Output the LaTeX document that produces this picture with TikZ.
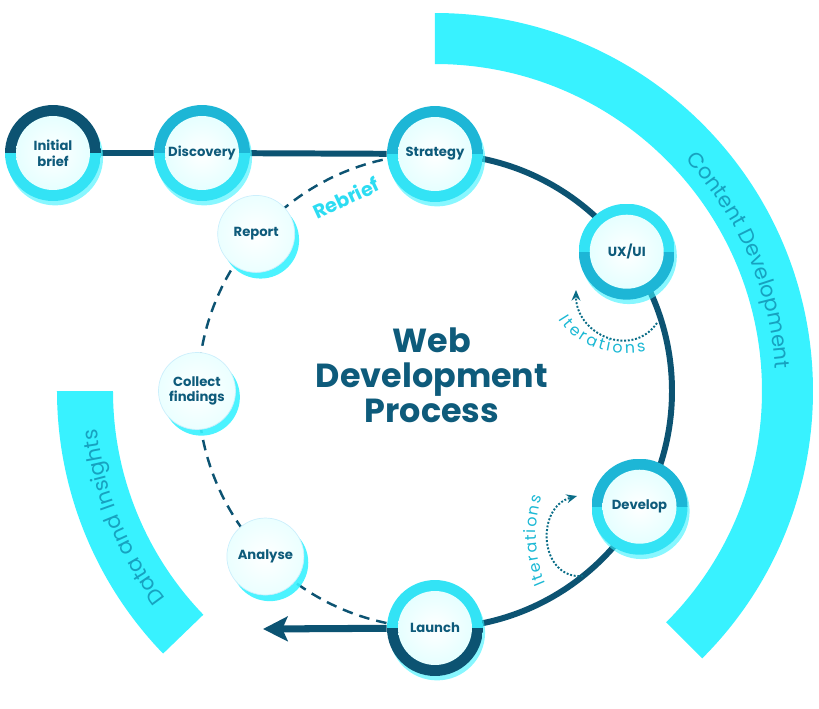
\documentclass[tikz,border=0pt]{standalone}
\usepackage{fontspec}
\setmainfont{Poppins}
\usetikzlibrary{arrows.meta,backgrounds,decorations.text,shadows}

\definecolor{navy}{HTML}{0C5372}
\definecolor{labeltxt}{HTML}{0E5B7B}
\definecolor{band}{HTML}{38F2FF}
\definecolor{ringlt}{HTML}{33E3F5}
\definecolor{ringmd}{HTML}{1DB6D6}
\definecolor{bandtxt}{HTML}{17A2C0}
\definecolor{itertxt}{HTML}{1BB8D4}
\definecolor{rebriefc}{HTML}{2CDCF2}

\tikzset{
  lbl/.style={font=\fontsize{7.5}{9}\selectfont\bfseries, text=labeltxt, align=center},
  stage/.style 2 args={circle, minimum size=1.92cm, inner sep=0pt, lbl,
    drop shadow={shadow xshift=1.2pt, shadow yshift=-2.5pt, fill=band, opacity=.6},
    path picture={
      \fill[#1] (path picture bounding box.west) rectangle (path picture bounding box.north east);
      \fill[#2] (path picture bounding box.west) rectangle (path picture bounding box.south east);
      \shade[inner color=white, outer color=cyan!10] (path picture bounding box.center) circle (0.74cm);
    }},
  finding/.style={circle, minimum size=1.54cm, inner sep=0pt, lbl,
    inner color=white, outer color=cyan!8, draw=cyan!20, line width=.4pt,
    drop shadow={shadow xshift=2.5pt, shadow yshift=-3.5pt, fill=band, opacity=.9}},
  mainline/.style={navy, line width=3.4pt},
  iterline/.style={navy!85!cyan, densely dotted, line width=1.1pt, -{Stealth[length=6pt,width=5pt]}},
  bandtext/.style={decorate, decoration={text along path, text align=center,
    text={|\fontsize{12}{12}\selectfont\color{bandtxt}|#1}}},
  itertext/.style={decorate, decoration={text along path, text align={fit to path},
    text={|\fontsize{9}{9}\selectfont\color{itertxt}|#1}}}
}

\begin{document}
\begin{tikzpicture}[x=0.02cm, y=0.02cm]
  \useasboundingbox (-435,-317) rectangle (384,391);

  % stages on the loop
  \node[stage={navy}{ringlt}] (init) at (-382,238) {Initial\\brief};
  \node[stage={ringmd}{ringlt}] (disc) at (-233,238) {Discovery};
  \node[stage={ringmd}{ringlt}] (strat) at (90:237) {Strategy};
  \node[stage={ringlt}{ringmd}] (uxui) at (36:237) {UX/UI};
  \node[stage={ringmd}{ringlt}] (dev) at (-29.5:235) {Develop};
  \node[stage={ringlt}{navy}] (launch) at (270:237) {Launch};

  \node[finding] (report) at (138.7:238) {Report};
  \node[finding] (collect) at (180:238) {Collect\\findings};
  \node[finding] (analyse) at (224.3:237) {Analyse};

  \node[font=\fontsize{19}{20}\selectfont\bfseries, text=labeltxt, align=center] (title) at (-3,16)
       {Web\\Development\\Process};
  \node[font=\fontsize{11}{12}\selectfont\bfseries, text=rebriefc, rotate=25] (rebrief) at (-89,193) {Rebrief};

  \coordinate (tip) at (-172,-238);
  \coordinate (it1a) at (222,68);
  \coordinate (it1b) at (141,101);
  \coordinate (it2a) at (148,-185);
  \coordinate (it2b) at (142,-105);

  \draw[iterline] (it1a) to[out=-125, in=-90, looseness=1.3] (it1b);
  \draw[iterline] (it2a) to[out=185, in=195, looseness=1.4] (it2b);
  \path[itertext=Iterations] (124,72) .. controls (138,48) and (172,32) .. (211,40);
  \path[itertext=Iterations] (111,-192) .. controls (99,-165) and (98,-130) .. (107,-106);

  \begin{pgfonlayer}{background}
    % outer bands
    \fill[band] (90:327) arc[start angle=90, end angle=-45, radius=327]
      -- (-45:378) arc[start angle=-45, end angle=90, radius=378] -- cycle;
    \fill[band] (180:322) arc[start angle=180, end angle=224, radius=322]
      -- (224:378) arc[start angle=224, end angle=180, radius=378] -- cycle;
    \path[bandtext=Content Development] (48:341) arc[start angle=48, end angle=-1.5, radius=341];
    \path[bandtext=Data and Insights] (224:340) arc[start angle=224, end angle=180, radius=340];

    \draw[mainline] (init) -- (disc) -- (strat);
    \draw[mainline] (strat.center) arc[start angle=90, end angle=-90, radius=237];
    \draw[navy, line width=1.4pt, dash pattern=on 6pt off 4pt]
      (strat.center) arc[start angle=90, end angle=270, radius=237];
    \draw[navy, line width=4pt, -{Stealth[length=14pt, width=14pt, inset=3pt]}] (launch) -- (tip);
  \end{pgfonlayer}
\end{tikzpicture}
\end{document}
